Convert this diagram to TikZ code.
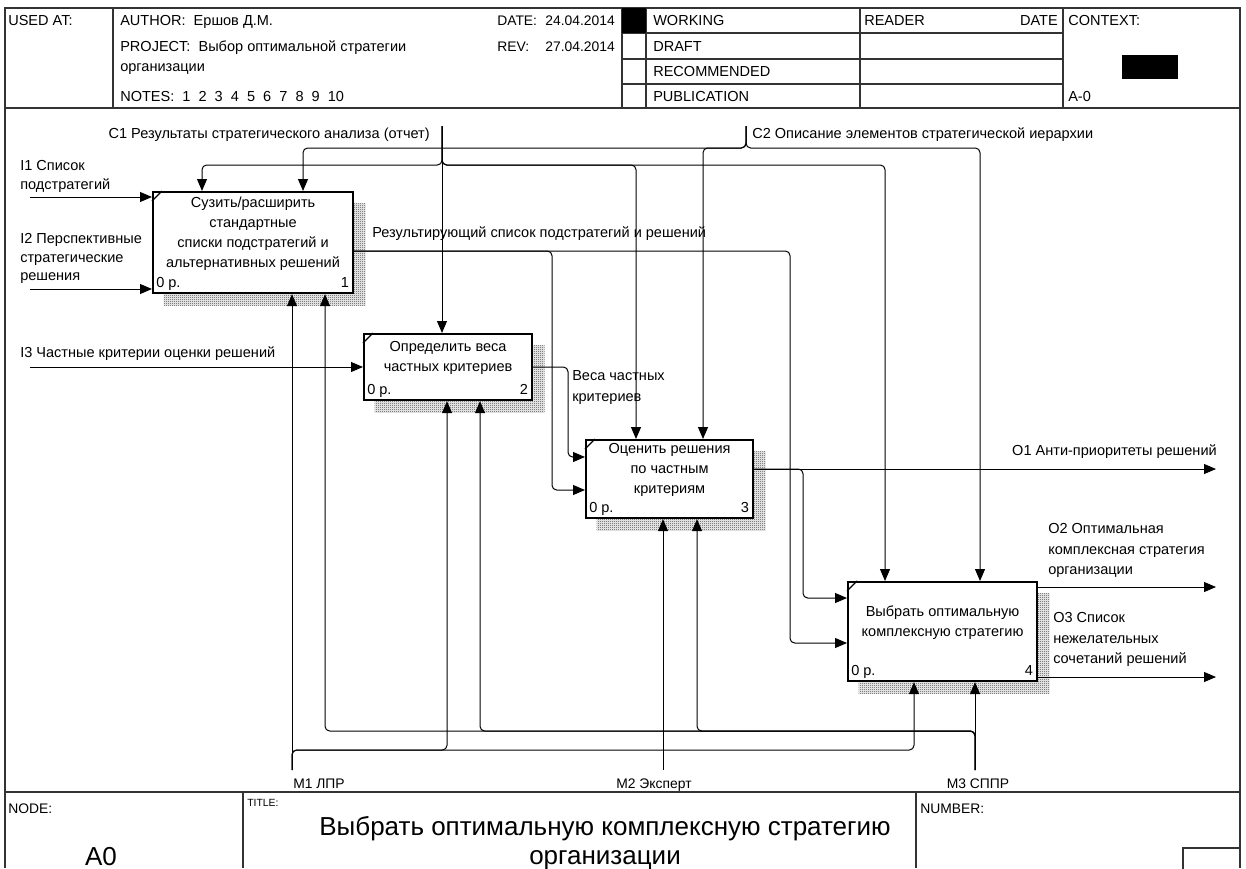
\documentclass[tikz,border=0pt]{standalone}
\usepackage{fontspec}
\setmainfont{Liberation Sans}
\usetikzlibrary{arrows.meta,calc,patterns.meta,backgrounds}

\newcommand\dfont{\fontsize{10.9}{15}\selectfont}
\newcommand\hfont{\fontsize{10.4}{15}\selectfont}
\newcommand\ifont{\fontsize{10.9}{13.7}\selectfont}
\newcommand\ofont{\fontsize{10.9}{15.4}\selectfont}
\newcommand\mfont{\fontsize{10.4}{13}\selectfont}
\newcommand\tfont{\fontsize{7.8}{9}\selectfont}
\newcommand\bigfont{\fontsize{19.5}{23.5}\selectfont}

% fine checker used for the box shadows
\tikzdeclarepattern{
  name=shadowcheck, type=uncolored,
  bottom left={(0pt,0pt)}, top right={(1.5pt,1.5pt)},
  tile size={(1.5pt,1.5pt)},
  code={
    \fill (0pt,0pt) rectangle (0.75pt,0.75pt);
    \fill (0.75pt,0.75pt) rectangle (1.5pt,1.5pt);
  }
}

\begin{document}
\begin{tikzpicture}[x=0.75pt,y=-0.75pt,
  frame/.style={line width=0.8pt, draw=black!80},
  conn/.style={line width=0.75pt, rounded corners=3.5pt},
  arr/.style={conn, -{Triangle[length=9pt,width=7.5pt]}},
  fun/.style={draw, line width=1.6pt, fill=white, anchor=north west, inner sep=0pt},
  shade/.style={pattern=shadowcheck, pattern color=black},
  ftxt/.style={font=\dfont, align=center, inner sep=0pt},
  fnum/.style={font=\dfont, inner sep=0pt},
  lbl/.style={font=\dfont, inner sep=0pt, anchor=base west},
  lble/.style={font=\dfont, inner sep=0pt, anchor=base east},
  hlbl/.style={font=\hfont, inner sep=0pt, anchor=base west},
  hlble/.style={font=\hfont, inner sep=0pt, anchor=base east},
  flbl/.style={font=\mfont, inner sep=0pt, anchor=base west},
  mlbl/.style={font=\mfont, inner sep=0pt, anchor=base},
  ilbl/.style={font=\ifont, inner sep=0pt, anchor=north west, align=left},
  olbl/.style={font=\ofont, inner sep=0pt, anchor=north west, align=left},
]
\useasboundingbox (0,0) rectangle (1246,868);
\clip (0,0) rectangle (1246,868);
\begin{scope}[on background layer]
  \fill[white] (0,0) rectangle (1246,868);
\end{scope}

% ---------- outer frame and header ----------
\draw[frame] (5,868) |- (1240,8) -- (1240,868);
\draw[frame] (5,108) -- (1240,108);
\foreach \xx in {113,622,646,860,1063} \draw[frame] (\xx,8) -- (\xx,108);
\foreach \yy in {33,59,84} \draw[frame] (622,\yy) -- (1063,\yy);
\fill (622,8) rectangle (646,33);
\fill (1122,55) rectangle (1178,79);

\node[lbl] (usedat) at (8,25.5) {USED AT:};
\node[lbl] (author) at (120,25.5) {AUTHOR:\ \ Ершов Д.М.};
\node[lbl] (project) at (120,51) {PROJECT:\ \ Выбор оптимальной стратегии};
\node[lbl] (project2) at (120,71) {организации};
\node[lbl] (notes) at (120,101.5) {NOTES:\ \ 1\ \ 2\ \ 3\ \ 4\ \ 5\ \ 6\ \ 7\ \ 8\ \ 9\ \ 10};
\node[hlbl] (datek) at (497,25.5) {DATE:};
\node[hlble] (datev) at (615,25.5) {24.04.2014};
\node[hlbl] (revk) at (497,51) {REV:};
\node[hlble] (revv) at (615,51) {27.04.2014};
\node[lbl] (working) at (653,25.5) {WORKING};
\node[lbl] (draft) at (653,51) {DRAFT};
\node[lbl] (recommended) at (653,76.5) {RECOMMENDED};
\node[lbl] (publication) at (653,101.5) {PUBLICATION};
\node[lbl] (reader) at (864,25.5) {READER};
\node[lble] (rdate) at (1058,25.5) {DATE};
\node[lbl] (context) at (1068,25.5) {CONTEXT:};
\node[lbl] (aminus) at (1068,101.5) {A-0};

% ---------- footer ----------
\draw[frame] (5,792) -- (1240,792);
\draw[frame] (243,792) -- (243,868);
\draw[frame] (916,792) -- (916,868);
\draw[frame] (1183,870) |- (1240,848);
\node[flbl] (nodek) at (8,813) {NODE:};
\node[font=\tfont, inner sep=0pt, anchor=base west] (titlek) at (247,806) {TITLE:};
\node[flbl] (numberk) at (920,813) {NUMBER:};
\node[font=\bigfont, inner sep=0pt, anchor=base] (nodev) at (101,865) {A0};
\node[font=\bigfont, inner sep=0pt, anchor=base] (title1) at (605,835) {Выбрать оптимальную комплексную стратегию};
\node[font=\bigfont, inner sep=0pt, anchor=base] (title2) at (605,864) {организации};

% ---------- activity boxes ----------
\node[fun, minimum width=150pt, minimum height=75.75pt] (b1) at (152,191) {};
\node[fun, minimum width=126pt, minimum height=49.5pt] (b2) at (363,333) {};
\node[fun, minimum width=125.25pt, minimum height=58.5pt] (b3) at (585,439) {};
\node[fun, minimum width=141.75pt, minimum height=74.25pt] (b4) at (847,581) {};

\begin{scope}[on background layer]
  \foreach \b in {b1,b2,b3,b4}
    \fill[shade] ($(\b.north west)+(11.5,12)$) rectangle ($(\b.south east)+(11.5,11.5)$);
\end{scope}

\foreach \b/\n in {b1/1,b2/2,b3/3,b4/4}{
  \draw[line width=0.9pt] ($(\b.north west)+(0,10)$) -- ($(\b.north west)+(10,0)$);
  \node[fnum, anchor=base west] (\b cost) at ($(\b.south west)+(4,-7)$) {0 р.};
  \node[fnum, anchor=base east] (\b num) at ($(\b.south east)+(-5,-7)$) {\n};
}

\node[ftxt] (b1t) at ($(b1.center)+(0,-9)$) {Сузить/расширить\\стандартные\\списки подстратегий и\\альтернативных решений};
\node[ftxt] (b2t) at ($(b2.center)+(0,-9)$) {Определить веса\\частных критериев};
\node[ftxt] (b3t) at ($(b3.center)+(0,-9)$) {Оценить решения\\по частным\\критериям};
\node[ftxt] (b4t) at ($(b4.center)+(0,-9)$) {Выбрать оптимальную\\комплексную стратегию};

% ---------- boundary points and bends ----------
\coordinate (c1) at (442,126);
\coordinate (c2) at (746,126);
\coordinate (i1) at (30,197);
\coordinate (i2) at (30,289);
\coordinate (i3) at (30,367);
\coordinate (o1) at (1216,469);
\coordinate (o2) at (1216,587);
\coordinate (o3) at (1216,677);
\coordinate (m1) at (292,770);
\coordinate (m2) at (663,770);
\coordinate (m3) at (975,770);

\coordinate (c1l) at (202,165);
\coordinate (c1m) at (636,165);
\coordinate (c1r) at (885,165);
\coordinate (c2l) at (303,148);
\coordinate (c2m) at (703,148);
\coordinate (c2r) at (980,148);
\coordinate (q1) at (552,490);
\coordinate (q2) at (790,643);
\coordinate (q3) at (568,457);
\coordinate (q4) at (803,598);
\coordinate (p2) at (447,750);
\coordinate (p4) at (914,750);
\coordinate (s1) at (325,731);
\coordinate (s2) at (480,731);
\coordinate (s3) at (697,731);

% ---------- controls ----------
\draw[arr] (c1) -- (c1 |- b2.north);
\draw[arr] (c1) |- (c1l) -- (c1l |- b1.north);
\draw[arr] (c1) |- (c1m) -- (c1m |- b3.north);
\draw[arr] (c1) |- (c1r) -- (c1r |- b4.north);
\draw[arr] (c2) |- (c2l) -- (c2l |- b1.north);
\draw[arr] (c2) |- (c2m) -- (c2m |- b3.north);
\draw[arr] (c2) |- (c2r) -- (c2r |- b4.north);

% ---------- inputs ----------
\draw[arr] (i1) -- (i1 -| b1.west);
\draw[arr] (i2) -- (i2 -| b1.west);
\draw[arr] (i3) -- (i3 -| b2.west);

% ---------- internal flows ----------
\draw[arr] ($(b1.north east)+(0,60)$) -| (q1) -- (q1 -| b3.west);
\draw[arr] ($(b1.north east)+(0,60)$) -| (q2) -- (q2 -| b4.west);
\draw[arr] ($(b2.north east)+(0,34)$) -| (q3) -- (q3 -| b3.west);
\draw[arr] (o1 -| b3.east) -| (q4) -- (q4 -| b4.west);

% ---------- outputs ----------
\draw[arr] (o1 -| b3.east) -- (o1);
\draw[arr] (o2 -| b4.east) -- (o2);
\draw[arr] (o3 -| b4.east) -- (o3);

% ---------- mechanisms ----------
\draw[arr] (m1) -- (m1 |- b1.south);
\draw[arr] (m1) |- (p2) -- (p2 |- b2.south);
\draw[arr] (m1) |- (p4) -- (p4 |- b4.south);
\draw[arr] (m2) -- (m2 |- b3.south);
\draw[arr] (m3) -- (m3 |- b4.south);
\draw[arr] (m3) |- (s1) -- (s1 |- b1.south);
\draw[arr] (m3) |- (s2) -- (s2 |- b2.south);
\draw[arr] (m3) |- (s3) -- (s3 |- b3.south);

% ---------- arrow labels ----------
\node[lble] (c1t) at (430,138) {C1 Результаты стратегического анализа (отчет)};
\node[lbl] (c2t) at (752,138) {C2 Описание элементов стратегической иерархии};
\node[ilbl] (i1t) at (20,160.5) {I1 Список\\подстратегий};
\node[ilbl] (i2t) at (20,233.5) {I2 Перспективные\\стратегические\\решения};
\node[lbl] (i3t) at (20,357) {I3 Частные критерии оценки решений};
\node[lbl] (r1t) at (372,237) {Результирующий список подстратегий и решений};
\node[olbl] (r2t) at (572,370.5) {Веса частных\\критериев};
\node[lble] (o1t) at (1217,455) {O1 Анти-приоритеты решений};
\node[olbl] (o2t) at (1048,523.5) {O2 Оптимальная\\комплексная стратегия\\организации};
\node[olbl] (o3t) at (1053,612.5) {O3 Список\\нежелательных\\сочетаний решений};
\node[mlbl] (m1t) at (319,788) {M1 ЛПР};
\node[mlbl] (m2t) at (654,788) {M2 Эксперт};
\node[mlbl] (m3t) at (978,788) {M3 СППР};
\end{tikzpicture}
\end{document}
